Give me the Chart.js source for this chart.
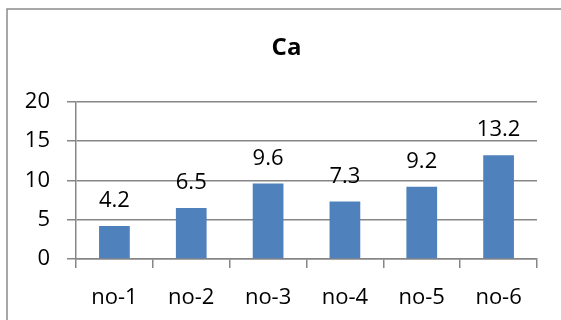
<!DOCTYPE html>
<html>
<head>
<meta charset="utf-8">
<script src="https://cdn.jsdelivr.net/npm/chart.js@4/dist/chart.umd.min.js"></script>
<style>
  html, body { margin: 0; padding: 0; background: #fff; }
  #wrap { position: relative; width: 561px; height: 320px; }
</style>
</head>
<body>
<div id="wrap"><canvas id="c" width="561" height="320"></canvas></div>
<script>
// Calcium content per sample
const categories = ['no-1', 'no-2', 'no-3', 'no-4', 'no-5', 'no-6'];
const caValues = [4.2, 6.5, 9.6, 7.3, 9.2, 13.2];
const yTickValues = [0, 5, 10, 15, 20];

const FONT = '"Open Sans", "Noto Sans", sans-serif';
const GRID = '#868686';

// white background and the chart frame (left and top edges)
const frame = {
  id: 'frame',
  beforeDraw(chart) {
    const c = chart.ctx;
    c.save();
    c.fillStyle = '#fff';
    c.fillRect(0, 0, chart.width, chart.height);
    c.strokeStyle = '#8c8c8c';
    c.lineWidth = 1.5;
    c.beginPath();
    c.moveTo(7, chart.height);
    c.lineTo(7, 9);
    c.lineTo(chart.width, 9);
    c.stroke();
    c.restore();
  }
};

// value written above each bar
const valueLabels = {
  id: 'valueLabels',
  afterDatasetsDraw(chart) {
    const c = chart.ctx;
    const meta = chart.getDatasetMeta(0);
    c.save();
    c.font = '22px ' + FONT;
    c.fillStyle = '#000';
    c.textAlign = 'center';
    c.textBaseline = 'alphabetic';
    meta.data.forEach((bar, i) => {
      c.fillText(String(caValues[i]), bar.x, bar.y - 19);
    });
    c.restore();
  }
};

new Chart(document.getElementById('c'), {
  type: 'bar',
  data: {
    labels: categories,
    datasets: [{
      label: 'Ca',
      data: caValues,
      backgroundColor: '#4F81BD',
      borderWidth: 0,
      barPercentage: 0.4,
      categoryPercentage: 1.0
    }]
  },
  options: {
    responsive: false,
    devicePixelRatio: 1,
    animation: false,
    layout: { padding: { left: 12, right: 0, top: 0, bottom: 0 } },
    plugins: {
      legend: { display: false },
      tooltip: { enabled: false },
      title: {
        display: true,
        text: 'Ca',
        color: '#000',
        font: { family: FONT, size: 24, weight: 'bold' },
        padding: { top: 34, bottom: 39 }
      }
    },
    scales: {
      x: {
        grid: {
          offset: true,
          drawOnChartArea: false,
          drawTicks: true,
          tickLength: 9,
          color: GRID,
          lineWidth: 1.5
        },
        border: { display: true, color: GRID, width: 1.5 },
        ticks: {
          color: '#000',
          font: { family: FONT, size: 22 },
          padding: 17,
          maxRotation: 0,
          autoSkip: false
        },
        afterFit(s) { s.height = 61; }
      },
      y: {
        min: 0,
        max: 20,
        afterBuildTicks(s) { s.ticks = yTickValues.map(v => ({ value: v })); },
        grid: {
          drawOnChartArea: true,
          drawTicks: true,
          tickLength: 9,
          color: GRID,
          lineWidth: 1.5
        },
        border: { display: true, color: GRID, width: 1.5 },
        ticks: {
          color: '#000',
          font: { family: FONT, size: 22 },
          padding: 17
        },
        afterFit(s) { s.width = 64; }
      },
      // empty margin on the right of the plot
      yRight: {
        position: 'right',
        display: true,
        min: 0,
        max: 20,
        grid: { display: false, drawTicks: false },
        border: { display: false },
        ticks: { display: false },
        afterFit(s) { s.width = 24; }
      }
    }
  },
  plugins: [frame, valueLabels]
});
</script>
</body>
</html>
